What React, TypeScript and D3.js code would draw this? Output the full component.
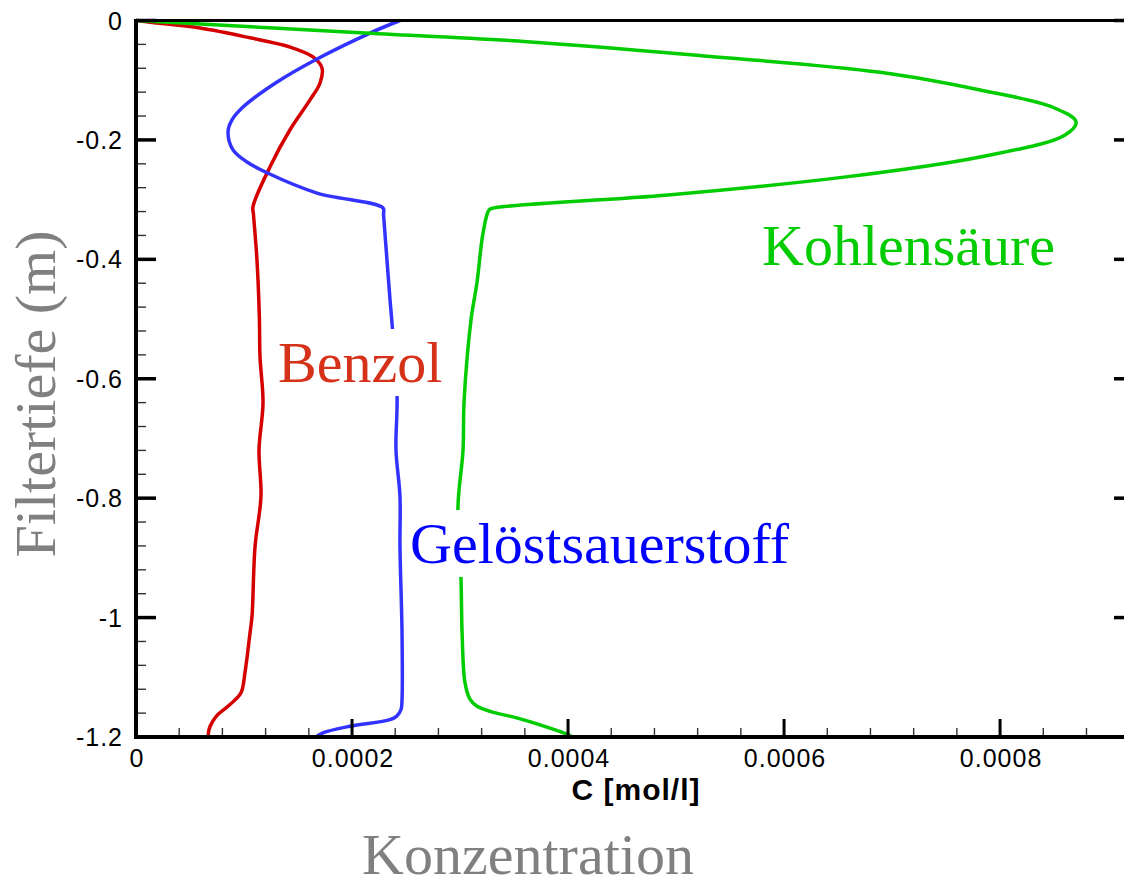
import React, { useLayoutEffect, useRef, useState } from "react";
import * as d3 from "d3";

// Filter depth (m) and concentration (mol/l) per species
const benzolDepth = [0, -0.003, -0.0126, -0.029, -0.0444, -0.061, -0.0795, -0.1046, -0.133, -0.183, -0.245, -0.312, -0.3255, -0.401, -0.496, -0.563, -0.64, -0.719, -0.797, -0.881, -0.998, -1.025, -1.092, -1.126, -1.1457, -1.1657, -1.1824, -1.1925, -1.2];
const benzolC = [0, 0.000013, 0.0000593, 0.0001056, 0.0001426, 0.0001639, 0.0001722, 0.0001704, 0.0001611, 0.0001426, 0.0001241, 0.0001083, 0.0001088, 0.000112, 0.0001142, 0.0001148, 0.0001176, 0.0001139, 0.0001157, 0.0001102, 0.0001074, 0.0001056, 0.0001009, 0.0000972, 0.000087, 0.0000741, 0.0000685, 0.0000671, 0.0000669];

const oxygenDepth = [0, -0.021, -0.0644, -0.103, -0.145, -0.1665, -0.1866, -0.2167, -0.237, -0.255, -0.289, -0.314, -0.3255, -0.468, -0.506, -0.63, -0.719, -0.797, -0.881, -1.025, -1.137, -1.154, -1.165, -1.171, -1.182, -1.193, -1.2];
const oxygenC = [0.0002444, 0.0002167, 0.0001676, 0.0001306, 0.0000991, 0.0000889, 0.0000852, 0.0000898, 0.0001028, 0.0001213, 0.0001676, 0.0002287, 0.0002292, 0.0002352, 0.000237, 0.0002417, 0.0002407, 0.0002444, 0.0002444, 0.0002463, 0.0002463, 0.0002454, 0.0002414, 0.0002352, 0.0001981, 0.0001731, 0.0001667];

const co2Depth = [0, -0.0204, -0.0355, -0.0577, -0.0867, -0.1163, -0.1448, -0.1699, -0.1916, -0.2285, -0.2619, -0.2921, -0.3138, -0.317, -0.356, -0.439, -0.501, -0.64, -0.719, -0.814, -0.936, -1.025, -1.109, -1.137, -1.148, -1.157, -1.168, -1.185, -1.196, -1.2];
const co2C = [0, 0.0002074, 0.000362, 0.0005157, 0.0006889, 0.0007815, 0.0008481, 0.0008704, 0.0008602, 0.0007815, 0.0006574, 0.0004926, 0.0003315, 0.000327, 0.0003213, 0.0003157, 0.0003102, 0.0003037, 0.0003028, 0.0002981, 0.0003009, 0.0003019, 0.0003046, 0.0003093, 0.0003155, 0.0003278, 0.0003525, 0.0003833, 0.0004, 0.0004037];

const xTicks = [0, 0.0002, 0.0004, 0.0006, 0.0008];
const xTickLabels = ["0", "0.0002", "0.0004", "0.0006", "0.0008"];
const yTicks = [0, -0.2, -0.4, -0.6, -0.8, -1, -1.2];
const yTickLabels = ["0", "-0.2", "-0.4", "-0.6", "-0.8", "-1", "-1.2"];

const W = 1124;
const H = 877;
const SERIF = "'Liberation Serif', 'Times New Roman', serif";
const SANS = "'Liberation Sans', Arial, sans-serif";

function BoxedLabel(props: { x: number; y: number; text: string; fill: string }) {
  const ref = useRef<SVGTextElement>(null);
  const [b, setB] = useState<{ x: number; y: number; w: number; h: number } | null>(null);
  useLayoutEffect(() => {
    if (ref.current) {
      const bb = ref.current.getBBox();
      setB({ x: bb.x, y: bb.y, w: bb.width, h: bb.height });
    }
  }, []);
  return (
    <g>
      {b && <rect x={b.x - 2} y={b.y - 1} width={b.w + 4} height={b.h + 2} fill="#fff" />}
      <text ref={ref} x={props.x} y={props.y} fill={props.fill} fontFamily={SERIF} fontSize={58}>
        {props.text}
      </text>
    </g>
  );
}

export default function App() {
  const x = d3.scaleLinear().domain([0, 0.000924]).range([136, 1134]);
  const y = d3.scaleLinear().domain([0, -1.2]).range([20.5, 737]);

  const mk = (cs: number[], ds: number[]) =>
    d3
      .line<number>()
      .x((_, i) => x(cs[i]))
      .y((d) => y(d))
      .curve(d3.curveCatmullRom.alpha(0.5))(ds) || "";

  const xMinor = d3.range(0, 0.000924, 0.00004).filter((v) => Math.abs(v / 0.0002 - Math.round(v / 0.0002)) > 1e-6);
  const yMinor = d3.range(0, -1.2001, -0.04).filter((v) => Math.abs(v / 0.2 - Math.round(v / 0.2)) > 1e-6);

  const [x0, x1] = x.range();
  const [y0, y1] = y.range();

  return (
    <svg width={W} height={H} style={{ position: "absolute", left: 0, top: 0, background: "#fff" }}>
      <rect x={0} y={0} width={W} height={H} fill="#fff" />
      {/* curves */}
      <path d={mk(benzolC, benzolDepth)} fill="none" stroke="#d40000" strokeWidth={3.5} strokeLinejoin="round" />
      <path d={mk(oxygenC, oxygenDepth)} fill="none" stroke="#3333ff" strokeWidth={3.5} strokeLinejoin="round" />
      <path d={mk(co2C, co2Depth)} fill="none" stroke="#00cc00" strokeWidth={3.5} strokeLinejoin="round" />

      {/* curve labels */}
      <BoxedLabel x={278} y={382} text="Benzol" fill="#d6321a" />
      <BoxedLabel x={410} y={563} text="Gelöstsauerstoff" fill="#0000ff" />
      <BoxedLabel x={762} y={265} text="Kohlensäure" fill="#00cc00" />

      {/* minor ticks */}
      {yMinor.map((v, i) => (
        <g key={"ym" + i}>
          <line x1={x0} x2={x0 + 10} y1={y(v)} y2={y(v)} stroke="#333" strokeWidth={1.4} />
          <line x1={x1} x2={x1 - 10} y1={y(v)} y2={y(v)} stroke="#333" strokeWidth={1.4} />
        </g>
      ))}
      {xMinor.map((v, i) => (
        <line key={"xm" + i} x1={x(v)} x2={x(v)} y1={y1} y2={y1 - 9} stroke="#333" strokeWidth={1.4} />
      ))}
      {/* major ticks */}
      {yTicks.map((v, i) => (
        <g key={"yM" + i}>
          <line x1={x0} x2={x0 + 20} y1={y(v)} y2={y(v)} stroke="#000" strokeWidth={3.5} />
          <line x1={x1} x2={x1 - 20} y1={y(v)} y2={y(v)} stroke="#000" strokeWidth={3.5} />
        </g>
      ))}
      {xTicks.map((v, i) => (
        <line key={"xM" + i} x1={x(v)} x2={x(v)} y1={y1} y2={y1 - 18} stroke="#000" strokeWidth={3} />
      ))}

      {/* axis lines */}
      <line x1={x0} x2={x1} y1={y0} y2={y0} stroke="#000" strokeWidth={3.2} />
      <line x1={x0 - 2} x2={x1} y1={y1} y2={y1} stroke="#000" strokeWidth={4} />
      <line x1={x0} x2={x0} y1={y0 - 1.6} y2={y1 + 2} stroke="#000" strokeWidth={4} />
      <line x1={x1} x2={x1} y1={y0 - 1.6} y2={y1 + 2} stroke="#000" strokeWidth={4} />

      {/* tick labels */}
      {yTicks.map((v, i) => (
        <text key={"yl" + i} x={123} y={y(v) + 9} textAnchor="end" fontFamily={SANS} fontSize={25} letterSpacing={1} fill="#000">
          {yTickLabels[i]}
        </text>
      ))}
      {xTicks.map((v, i) => (
        <text key={"xl" + i} x={x(v) + 1} y={767} textAnchor="middle" fontFamily={SANS} fontSize={25} letterSpacing={1} fill="#000">
          {xTickLabels[i]}
        </text>
      ))}

      {/* axis titles */}
      <text x={636} y={800} textAnchor="middle" fontFamily={SANS} fontWeight="bold" fontSize={30} letterSpacing={1} fill="#000">
        C [mol/l]
      </text>
      <text x={528} y={874} textAnchor="middle" fontFamily={SERIF} fontSize={58} fill="#808080">
        Konzentration
      </text>
      <text transform="translate(55,394) rotate(-90)" textAnchor="middle" fontFamily={SERIF} fontSize={58} fill="#808080">
        Filtertiefe (m)
      </text>
    </svg>
  );
}
